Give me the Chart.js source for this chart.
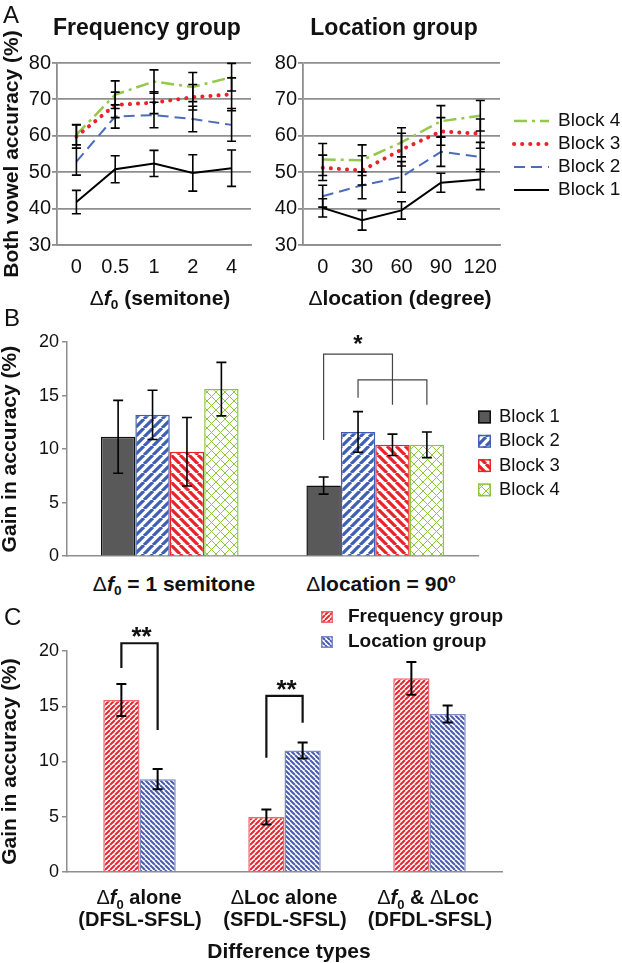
<!DOCTYPE html>
<html>
<head>
<meta charset="utf-8">
<script src="https://cdn.jsdelivr.net/npm/chart.js@4.4.0/dist/chart.umd.min.js"></script>
<style>
  html, body { margin: 0; padding: 0; background: #fff; }
  #fig { position: relative; width: 622px; height: 963px; overflow: hidden;
         font-family: 'Liberation Sans', Arial, sans-serif; color: #111; }
  canvas { position: absolute; }
  .t { position: absolute; transform: translate(-50%, -50%); white-space: nowrap; line-height: 1; }
  .b { font-weight: bold; }
  .d { font-weight: normal; }
  .f { font-style: italic; }
  .letter { position: absolute; font-size: 24px; line-height: 1; transform: translateY(-50%); }
  sub { font-size: 0.65em; vertical-align: -0.35em; line-height: 0; }
  sup { font-size: 0.6em; vertical-align: 0.6em; line-height: 0; }
</style>
</head>
<body>
<div id="fig">
  <canvas id="cA1" width="260" height="290" style="left:0;top:0"></canvas>
  <canvas id="cA2" width="362" height="290" style="left:260px;top:0"></canvas>
  <canvas id="cB" width="622" height="250" style="left:0;top:320px"></canvas>
  <canvas id="cC" width="622" height="290" style="left:0;top:600px"></canvas>

  <div class="letter" style="left:3px;top:15px">A</div>
  <div class="t b" style="left:147px;top:27px;font-size:23px">Frequency group</div>
  <div class="t b" style="left:394px;top:27px;font-size:23px">Location group</div>
  <div class="t b" style="left:160px;top:297px;font-size:21px"><span class="d">Δ</span><span class="f">f</span><sub>0</sub> (semitone)</div>
  <div class="t b" style="left:400px;top:297px;font-size:21px"><span class="d">Δ</span>location (degree)</div>

  <div class="letter" style="left:4px;top:318px">B</div>
  <div class="t b" style="left:174px;top:583px;font-size:21px"><span class="d">Δ</span><span class="f">f</span><sub>0</sub> = 1 semitone</div>
  <div class="t b" style="left:381px;top:583px;font-size:21px"><span class="d">Δ</span>location = 90<sup>o</sup></div>

  <div class="letter" style="left:4px;top:617px">C</div>
  <div class="t b" style="left:139px;top:897px;font-size:20px"><span class="d">Δ</span><span class="f">f</span><sub>0</sub> alone</div>
  <div class="t b" style="left:140px;top:919px;font-size:20px">(DFSL-SFSL)</div>
  <div class="t b" style="left:284px;top:897px;font-size:20px"><span class="d">Δ</span>Loc alone</div>
  <div class="t b" style="left:285px;top:919px;font-size:20px">(SFDL-SFSL)</div>
  <div class="t b" style="left:428px;top:897px;font-size:20px"><span class="d">Δ</span><span class="f">f</span><sub>0</sub> &amp; <span class="d">Δ</span>Loc</div>
  <div class="t b" style="left:430px;top:919px;font-size:20px">(DFDL-SFSL)</div>
  <div class="t b" style="left:289px;top:950px;font-size:21px">Difference types</div>
</div>

<script>
// ---- panel A: accuracy per block ----
const freqLabels = ['0', '0.5', '1', '2', '4'];
const locLabels = ['0', '30', '60', '90', '120'];
const blockNames = ['Block 1', 'Block 2', 'Block 3', 'Block 4'];

const freqBlock1 = [41.8, 50.8, 52.4, 49.8, 51.1];
const freqBlock1Err = [3.2, 3.7, 3.6, 5.0, 5.0];
const freqBlock2 = [52.9, 65.3, 65.7, 64.6, 63.0];
const freqBlock2Err = [3.7, 3.2, 3.5, 3.5, 4.5];
const freqBlock3 = [59.8, 68.5, 69.1, 70.6, 71.4];
const freqBlock3Err = [3.2, 3.5, 3.0, 3.5, 4.5];
const freqBlock4 = [60.3, 71.3, 74.9, 73.4, 76.1];
const freqBlock4Err = [2.8, 3.8, 3.2, 4.0, 3.8];

const locBlock1 = [40.2, 36.8, 39.5, 47.1, 48.0];
const locBlock1Err = [2.5, 2.7, 2.4, 2.6, 2.8];
const locBlock2 = [43.4, 46.4, 48.7, 55.6, 54.2];
const locBlock2Err = [3.0, 3.7, 4.2, 4.0, 4.0];
const locBlock3 = [51.2, 50.5, 56.2, 61.2, 60.6];
const locBlock3Err = [3.5, 4.0, 4.5, 3.8, 4.0];
const locBlock4 = [53.5, 53.3, 58.2, 64.0, 65.5];
const locBlock4Err = [4.4, 4.2, 4.0, 4.3, 4.2];

const accTicks = { min: 30, max: 80, step: 10 };

// ---- panel B: gain per block ----
const gainCats = ['Δf0 = 1 semitone', 'Δlocation = 90°'];
const gainBlock1 = [11.15, 6.6];
const gainBlock1Err = [3.4, 0.8];
const gainBlock2 = [13.2, 11.6];
const gainBlock2Err = [2.3, 1.9];
const gainBlock3 = [9.75, 10.4];
const gainBlock3Err = [3.2, 1.0];
const gainBlock4 = [15.6, 10.4];
const gainBlock4Err = [2.5, 1.2];

// ---- panel C: gain per difference type ----
const diffCats = ['Δf0 alone (DFSL-SFSL)', 'ΔLoc alone (SFDL-SFSL)', 'Δf0 & ΔLoc (DFDL-SFSL)'];
const groupNames = ['Frequency group', 'Location group'];
const diffFreq = [15.57, 4.97, 17.53];
const diffFreqErr = [1.45, 0.68, 1.48];
const diffLoc = [8.4, 11.0, 14.3];
const diffLocErr = [0.92, 0.73, 0.77];

const gainTicks = { min: 0, max: 20, step: 5 };

// significance brackets, in data units
const starB = { low: 10.86, top: 18.86, rightLow: 14.15, inner: 16.46, innerLeftLow: 14.8, innerRightLow: 14.15, label: 20.3 };
const starC = [
  { cat: 0, leftLow: 18.46, top: 20.7, rightLow: 12.85, label: 21.9 },
  { cat: 1, leftLow: 10.33, top: 15.93, rightLow: 13.5, label: 17.1 }
];

const FONT = "'Liberation Sans', Arial, sans-serif";
const GRAY = '#8e8e8e';
Chart.defaults.font.family = FONT;
Chart.defaults.color = '#111';

function stripes(color, period, width, dir) {
  const c = document.createElement('canvas');
  c.width = period; c.height = period;
  const x = c.getContext('2d');
  x.fillStyle = '#fff';
  x.fillRect(0, 0, period, period);
  x.strokeStyle = color;
  x.lineWidth = width;
  x.beginPath();
  for (let k = -1; k <= 1; k++) {
    if (dir === '/') { x.moveTo(k * period, period); x.lineTo(k * period + period, 0); }
    else { x.moveTo(k * period, 0); x.lineTo(k * period + period, period); }
  }
  x.stroke();
  return x.createPattern(c, 'repeat');
}

function crosshatch(color, period) {
  const c = document.createElement('canvas');
  c.width = period; c.height = period;
  const x = c.getContext('2d');
  x.fillStyle = '#fff';
  x.fillRect(0, 0, period, period);
  x.strokeStyle = color;
  x.lineWidth = 1;
  x.beginPath();
  for (let k = -1; k <= 1; k++) {
    x.moveTo(k * period, period); x.lineTo(k * period + period, 0);
    x.moveTo(k * period, 0); x.lineTo(k * period + period, period);
  }
  x.stroke();
  return x.createPattern(c, 'repeat');
}

const errorBars = {
  id: 'errorBars',
  afterDatasetsDraw(chart, args, opts) {
    const ctx = chart.ctx;
    const y = chart.scales.y;
    ctx.save();
    ctx.strokeStyle = '#000';
    ctx.lineWidth = opts.width;
    chart.data.datasets.forEach((ds, i) => {
      if (!ds.errors) return;
      chart.getDatasetMeta(i).data.forEach((el, j) => {
        const v = ds.data[j], e = ds.errors[j];
        const top = y.getPixelForValue(v + e), bot = y.getPixelForValue(v - e);
        ctx.beginPath();
        ctx.moveTo(el.x, top); ctx.lineTo(el.x, bot);
        ctx.moveTo(el.x - opts.cap, top); ctx.lineTo(el.x + opts.cap, top);
        ctx.moveTo(el.x - opts.cap, bot); ctx.lineTo(el.x + opts.cap, bot);
        ctx.stroke();
      });
    });
    ctx.restore();
  }
};

function lineSets(b1, e1, b2, e2, b3, e3, b4, e4) {
  return [
    { label: blockNames[0], data: b1, errors: e1, borderColor: '#000', borderWidth: 2 },
    { label: blockNames[1], data: b2, errors: e2, borderColor: '#4a6dbb', borderWidth: 2, borderDash: [11, 6] },
    { label: blockNames[2], data: b3, errors: e3, borderColor: '#e8242a', borderWidth: 4, borderDash: [0.1, 8], borderCapStyle: 'round' },
    { label: blockNames[3], data: b4, errors: e4, borderColor: '#93c849', borderWidth: 2.5, borderDash: [13, 5, 3, 5] }
  ];
}

function accOptions(yWidth, padRight, withTitle) {
  return {
    responsive: false, animation: false, devicePixelRatio: 1,
    layout: { padding: { top: 63, left: 0, right: padRight, bottom: 0 } },
    elements: { point: { radius: 0 }, line: { tension: 0 } },
    plugins: { legend: { display: false }, tooltip: { enabled: false }, errorBars: { cap: 4.5, width: 1.6 } },
    scales: {
      x: {
        offset: true,
        grid: { display: false },
        border: { display: true, color: GRAY, width: 1.8 },
        ticks: { font: { size: 20 }, padding: 2, color: '#111' },
        afterFit: s => { s.height = 45; }
      },
      y: {
        min: accTicks.min, max: accTicks.max,
        grid: { color: GRAY, lineWidth: 1.8, tickLength: 5 },
        border: { color: GRAY, width: 1.8 },
        ticks: { stepSize: accTicks.step, font: { size: 20 }, padding: 1, color: '#111' },
        title: { display: withTitle, text: 'Both vowel accuracy (%)', font: { size: 21, weight: 'bold' }, padding: 0, color: '#111' },
        afterFit: s => { s.width = yWidth; }
      }
    }
  };
}

const lineLegend = {
  id: 'lineLegend',
  afterDraw(chart, args, o) {
    const ctx = chart.ctx;
    const sets = chart.data.datasets;
    sets.slice().reverse().forEach((ds, k) => {
      const y = o.top + k * o.step;
      ctx.save();
      ctx.strokeStyle = ds.borderColor;
      ctx.lineWidth = ds.borderWidth;
      ctx.setLineDash(ds.borderDash || []);
      ctx.lineCap = ds.borderCapStyle || 'butt';
      ctx.beginPath(); ctx.moveTo(o.x, y); ctx.lineTo(o.x + o.len, y); ctx.stroke();
      ctx.restore();
      ctx.fillStyle = '#111';
      ctx.font = '19px ' + FONT;
      ctx.textBaseline = 'middle';
      ctx.fillText(ds.label, o.textX, y);
    });
  }
};

new Chart(document.getElementById('cA1'), {
  type: 'line',
  data: { labels: freqLabels, datasets: lineSets(freqBlock1, freqBlock1Err, freqBlock2, freqBlock2Err, freqBlock3, freqBlock3Err, freqBlock4, freqBlock4Err) },
  options: accOptions(57, 9, true),
  plugins: [errorBars]
});

const optA2 = accOptions(43, 122, false);
optA2.plugins.lineLegend = { x: 254, len: 35, textX: 298, top: 121, step: 23 };
new Chart(document.getElementById('cA2'), {
  type: 'line',
  data: { labels: locLabels, datasets: lineSets(locBlock1, locBlock1Err, locBlock2, locBlock2Err, locBlock3, locBlock3Err, locBlock4, locBlock4Err) },
  options: optA2,
  plugins: [errorBars, lineLegend]
});

// ---- bar panels ----
const boxLegend = {
  id: 'boxLegend',
  afterDraw(chart, args, o) {
    const ctx = chart.ctx;
    chart.data.datasets.forEach((ds, k) => {
      const y = o.top + k * o.step;
      ctx.save();
      ctx.fillStyle = ds.backgroundColor;
      ctx.fillRect(o.x, y - o.size / 2, o.size, o.size);
      ctx.strokeStyle = ds.borderColor;
      ctx.lineWidth = 1.5;
      ctx.strokeRect(o.x + 0.75, y - o.size / 2 + 0.75, o.size - 1.5, o.size - 1.5);
      ctx.restore();
      ctx.fillStyle = '#111';
      ctx.font = o.font;
      ctx.textBaseline = 'middle';
      ctx.fillText(ds.label, o.textX, y);
    });
  }
};

function gainOptions(top, xHeight, padRight, catPct) {
  return {
    responsive: false, animation: false, devicePixelRatio: 1,
    layout: { padding: { top: top, left: 0, right: padRight, bottom: 0 } },
    plugins: { legend: { display: false }, tooltip: { enabled: false } },
    datasets: { bar: { categoryPercentage: catPct, barPercentage: 1, borderSkipped: 'bottom' } },
    scales: {
      x: {
        grid: { display: false },
        border: { display: true, color: GRAY, width: 1.5 },
        ticks: { display: false },
        afterFit: s => { s.height = xHeight; }
      },
      y: {
        min: gainTicks.min, max: gainTicks.max,
        grid: { drawOnChartArea: false, color: GRAY, lineWidth: 1.5, tickLength: 5 },
        border: { color: GRAY, width: 1.5 },
        ticks: { stepSize: gainTicks.step, font: { size: 18 }, padding: 3, color: '#111' },
        title: { display: true, text: 'Gain in accuracy (%)', font: { size: 21, weight: 'bold', lineHeight: 1 }, padding: 0, color: '#111' },
        afterFit: s => { s.width = 67; }
      }
    }
  };
}

function drawStar(ctx, text, x, yCenter, size) {
  ctx.save();
  ctx.fillStyle = '#111';
  ctx.font = 'bold ' + size + 'px ' + FONT;
  ctx.textAlign = 'center';
  ctx.textBaseline = 'alphabetic';
  ctx.fillText(text, x, yCenter + 0.57 * size);
  ctx.restore();
}

const bracketB = {
  id: 'bracketB',
  afterDatasetsDraw(chart) {
    const ctx = chart.ctx;
    const y = v => chart.scales.y.getPixelForValue(v);
    const p1 = chart.getDatasetMeta(0).data[1].x;
    const p2 = chart.getDatasetMeta(1).data[1].x;
    const p4 = chart.getDatasetMeta(3).data[1].x;
    const mid = (p2 + p4) / 2;
    ctx.save();
    ctx.strokeStyle = '#444';
    ctx.lineWidth = 1.2;
    ctx.beginPath();
    ctx.moveTo(p1, y(starB.low)); ctx.lineTo(p1, y(starB.top));
    ctx.lineTo(mid, y(starB.top)); ctx.lineTo(mid, y(starB.rightLow));
    ctx.moveTo(p2, y(starB.innerLeftLow)); ctx.lineTo(p2, y(starB.inner));
    ctx.lineTo(p4, y(starB.inner)); ctx.lineTo(p4, y(starB.innerRightLow));
    ctx.stroke();
    ctx.restore();
    drawStar(ctx, '*', p2, y(starB.label), 24);
  }
};

const pBlock2 = stripes('#3f5fb3', 9, 3.2, '/');
const pBlock3 = stripes('#e8232a', 9, 3.2, '\\');
const pBlock4 = crosshatch('#8dc63f', 9);

const optB = gainOptions(22, 12, 144, 0.67);
optB.plugins.boxLegend = { x: 478, size: 13, textX: 499, top: 97, step: 24.3, font: '18.5px ' + FONT };
optB.plugins.errorBars = { cap: 5, width: 1.6 };
new Chart(document.getElementById('cB'), {
  type: 'bar',
  data: {
    labels: gainCats,
    datasets: [
      { label: blockNames[0], data: gainBlock1, errors: gainBlock1Err, backgroundColor: '#595959', borderColor: '#111', borderWidth: 1.5 },
      { label: blockNames[1], data: gainBlock2, errors: gainBlock2Err, backgroundColor: pBlock2, borderColor: '#3f5fb3', borderWidth: 1.5 },
      { label: blockNames[2], data: gainBlock3, errors: gainBlock3Err, backgroundColor: pBlock3, borderColor: '#e8232a', borderWidth: 1.5 },
      { label: blockNames[3], data: gainBlock4, errors: gainBlock4Err, backgroundColor: pBlock4, borderColor: '#8dc63f', borderWidth: 1.5 }
    ]
  },
  options: optB,
  plugins: [errorBars, bracketB, boxLegend]
});

const bracketC = {
  id: 'bracketC',
  afterDatasetsDraw(chart) {
    const ctx = chart.ctx;
    const y = v => chart.scales.y.getPixelForValue(v);
    starC.forEach(s => {
      const a = chart.getDatasetMeta(0).data[s.cat].x;
      const b = chart.getDatasetMeta(1).data[s.cat].x;
      ctx.save();
      ctx.strokeStyle = '#111';
      ctx.lineWidth = 2.2;
      ctx.beginPath();
      ctx.moveTo(a, y(s.leftLow)); ctx.lineTo(a, y(s.top));
      ctx.lineTo(b, y(s.top)); ctx.lineTo(b, y(s.rightLow));
      ctx.stroke();
      ctx.restore();
      drawStar(ctx, '**', (a + b) / 2 + 2, y(s.label), 26);
    });
  }
};

const pFreq = stripes('#e6262e', 5, 2, '/');
const pLoc = stripes('#4a5cae', 5, 2, '\\');

const optC = gainOptions(51, 18, 120, 0.5);
optC.plugins.boxLegend = { x: 321, size: 12, textX: 348, top: 17, step: 25, font: 'bold 19px ' + FONT };
optC.plugins.errorBars = { cap: 5, width: 2 };
new Chart(document.getElementById('cC'), {
  type: 'bar',
  data: {
    labels: diffCats,
    datasets: [
      { label: groupNames[0], data: diffFreq, errors: diffFreqErr, backgroundColor: pFreq, borderColor: '#ec6a70', borderWidth: 1.5 },
      { label: groupNames[1], data: diffLoc, errors: diffLocErr, backgroundColor: pLoc, borderColor: '#7b89c4', borderWidth: 1.5 }
    ]
  },
  options: optC,
  plugins: [errorBars, bracketC, boxLegend]
});
</script>
</body>
</html>
